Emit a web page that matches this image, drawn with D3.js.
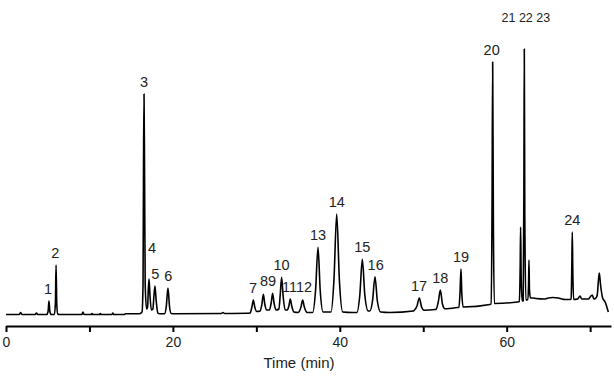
<!DOCTYPE html>
<html>
<head>
<meta charset="utf-8">
<script src="https://cdn.jsdelivr.net/npm/d3@7"></script>
<style>
    body { margin: 0; background: #fff; }
    svg { display: block; font-family: "Liberation Sans", Arial, sans-serif; }
</style>
</head>
<body>
<svg id="chart" width="614" height="379"></svg>
<script>
// chromatogram trace, [time (min), signal]
const trace = [
    [0.0, 0.5], [1.6, 0.5], [1.75, 2.5], [1.9, 0.5], [3.5, 0.5], [3.65, 2], [3.8, 0.5],
    [4.9, 0.5], [5.05, 4], [5.15, 14], [5.25, 4], [5.4, 0.5],
    [5.8, 0.5], [5.92, 12], [6.0, 50], [6.08, 12], [6.2, 1], [6.4, 0.5],
    [9.1, 0.5], [9.22, 3], [9.35, 0.5], [10.2, 0.5], [10.3, 1.5], [10.4, 0.5],
    [11.2, 0.5], [11.3, 1.5], [11.4, 0.5], [12.7, 0.5], [12.8, 2], [12.9, 0.5],
    [14.2, 0.5], [14.3, 1.2], [16.0, 1.2],
    // 3, 4, 5
    [16.3, 3], [16.42, 30], [16.48, 150], [16.54, 221], [16.6, 150], [16.68, 30], [16.85, 6],
    [16.97, 8], [17.05, 25], [17.14, 36], [17.25, 20], [17.42, 5],
    [17.6, 6], [17.72, 18], [17.85, 29], [18.0, 14], [18.2, 2], [18.4, 1.2],
    // 6
    [19.0, 1.2], [19.2, 8], [19.41, 27], [19.6, 8], [19.8, 1.5], [20.2, 1.2],
    [25.8, 1.5], [26.0, 2.5], [26.2, 1.5], [28.9, 1.7],
    // 7 - 12
    [29.25, 2], [29.47, 8], [29.64, 15], [29.81, 8], [30.05, 3.5],
    [30.45, 4], [30.67, 11], [30.84, 20.7], [31.01, 11], [31.25, 5],
    [31.55, 5], [31.78, 12], [31.95, 21.7], [32.12, 12], [32.4, 5],
    [32.7, 6], [32.86, 20], [33.03, 37.7], [33.2, 20], [33.45, 5],
    [33.7, 5], [33.9, 9], [34.07, 16], [34.24, 9], [34.5, 3],
    [35.0, 2.5], [35.35, 8], [35.55, 15], [35.75, 8], [36.1, 2.5],
    // 13 - 16
    [36.75, 2.5], [37.1, 25], [37.39, 67.7], [37.65, 25], [38.0, 3],
    [38.95, 3], [39.3, 35], [39.63, 101], [39.95, 35], [40.35, 3],
    [41.5, 2.5],
    [42.05, 2.5], [42.4, 20], [42.7, 55.7], [43.0, 20], [43.4, 4],
    [43.6, 4], [43.92, 14], [44.22, 38.3], [44.5, 14], [44.9, 3],
    [46.0, 2.5], [48.8, 4],
    // 17 - 19
    [48.9, 4.5], [49.25, 9], [49.53, 17], [49.8, 8], [50.1, 4.8],
    [51.4, 5.5],
    [51.55, 5.8], [51.8, 13], [52.05, 25], [52.3, 11], [52.6, 6.3],
    [54.1, 7.5],
    [54.28, 7.7], [54.42, 25], [54.52, 46], [54.62, 22], [54.78, 8],
    // 20 - 23
    [58.0, 10.5],
    [58.12, 11], [58.24, 100], [58.32, 253], [58.4, 100], [58.52, 11.5],
    [61.3, 13],
    [61.52, 13.5], [61.62, 50], [61.67, 88], [61.73, 40], [61.85, 14],
    [61.98, 14], [62.06, 120], [62.11, 266], [62.17, 100], [62.3, 15],
    [62.52, 15.5], [62.62, 30], [62.67, 55], [62.73, 25], [62.85, 17],
    [63.2, 17], [63.5, 16.5], [64.5, 16], [65.0, 17], [65.5, 17.5], [66.2, 17], [66.6, 16],
    [67.0, 15.5], [67.6, 15.5],
    // 24 and the tail
    [67.72, 16], [67.8, 45], [67.86, 83], [67.92, 45], [68.02, 15.5],
    [68.5, 16], [68.78, 19], [69.0, 16], [69.8, 16], [70.0, 18], [70.26, 20], [70.45, 16], [70.7, 17],
    [70.85, 20], [71.0, 35], [71.1, 42], [71.25, 30], [71.5, 17], [71.8, 13], [72.0, 8], [72.18, 3]
];

// peak labels
const labelText  = ["1", "2", "3", "4", "5", "6", "7", "89", "10", "1112", "13", "14", "15", "16", "17", "18", "19", "20", "21 22 23", "24"];
const labelTime  = [5.05, 5.9, 16.54, 17.5, 17.9, 19.45, 29.6, 31.4, 33.03, 34.87, 37.39, 39.63, 42.7, 44.3, 49.5, 52.05, 54.52, 58.2, 62.3, 67.86];
const labelLevel = [14, 50, 221, 55, 29, 27, 15, 22, 37.7, 16, 67.7, 101, 55.7, 38.3, 17, 25, 46, 253, 286, 83];

const xTicks = [0, 10, 20, 30, 40, 50, 60, 70];
const xTickLabels = ["0", "", "20", "", "40", "", "60", ""];
const xTitle = "Time (min)";

const svg = d3.select("#chart");

const x = d3.scaleLinear().domain([0, 72.5]).range([6, 611]);
const y = d3.scaleLinear().domain([0, 280]).range([315, 35]);

const line = d3.line()
    .x(d => x(d[0]))
    .y(d => y(d[1]))
    .curve(d3.curveMonotoneX);

svg.append("path")
    .datum(trace)
    .attr("d", line)
    .attr("fill", "none")
    .attr("stroke", "#000")
    .attr("stroke-width", 1.6)
    .attr("stroke-linejoin", "round");

// x axis
const axis = svg.append("g")
    .attr("transform", "translate(0,326)")
    .call(d3.axisBottom(x)
        .tickValues(xTicks)
        .tickFormat((d, i) => xTickLabels[i])
        .tickSize(6)
        .tickSizeOuter(0)
        .tickPadding(5));

axis.select(".domain").attr("stroke", "#000").attr("stroke-width", 2);
axis.selectAll(".tick line").attr("stroke", "#000").attr("stroke-width", 2);
axis.selectAll(".tick text")
    .attr("font-family", "Liberation Sans, Arial, sans-serif")
    .attr("font-size", 14)
    .attr("fill", "#222");

svg.append("text")
    .attr("x", 299)
    .attr("y", 368)
    .attr("text-anchor", "middle")
    .attr("font-size", 15)
    .attr("fill", "#222")
    .text(xTitle);

// peak numbers
svg.append("g").selectAll("text")
    .data(labelText)
    .join("text")
    .attr("x", (d, i) => x(labelTime[i]))
    .attr("y", (d, i) => y(labelLevel[i]) - 7)
    .attr("text-anchor", "middle")
    .attr("font-size", d => d.includes(" ") ? 12.5 : 14.5)
    .attr("fill", "#222")
    .text(d => d);
</script>
</body>
</html>
